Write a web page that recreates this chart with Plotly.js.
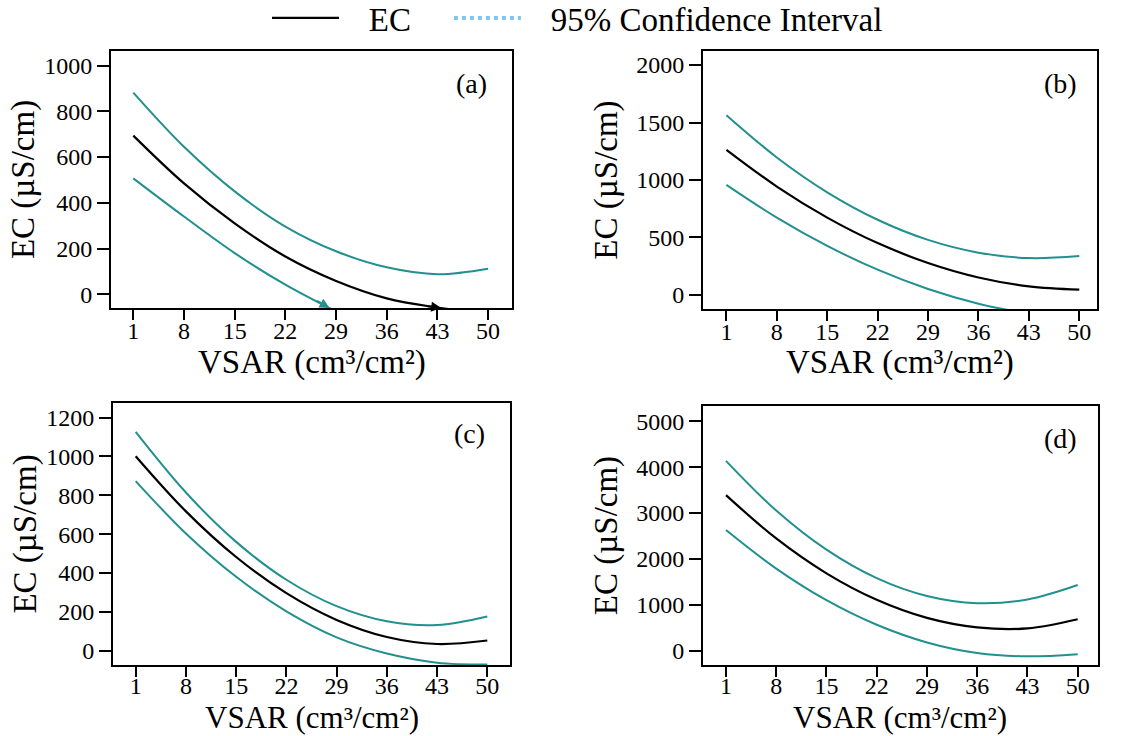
<!DOCTYPE html>
<html>
<head>
<meta charset="utf-8">
<script src="https://cdn.plot.ly/plotly-3.0.1.min.js"></script>
<style>html,body{margin:0;padding:0;background:#fff;}#chart{width:1139px;height:736px;}</style>
</head>
<body>
<div id="chart"></div>
<script>
// VSAR values (cm3/cm2)
const vsar = [1, 8, 15, 22, 29, 36, 43, 50];
const xTickVals = [1, 8, 15, 22, 29, 36, 43, 50];

// Panel (a)
const a_ec = [694, 485, 310, 165, 58, -18, -58, -85];
const a_up = [882, 645, 450, 296, 188, 118, 88, 112];
const a_lo = [507, 340, 180, 42, -75, null, null, null];
// Panel (b)
const b_ec = [1262, 943, 673, 451, 278, 152, 75, 46];
const b_up = [1563, 1196, 893, 654, 479, 368, 321, 338];
const b_lo = [958, 673, 427, 220, 52, -76, -165, null];
// Panel (c)
const c_ec = [1001, 717, 482, 296, 158, 70, 34, 52];
const c_up = [1126, 814, 560, 365, 229, 151, 132, 176];
const c_lo = [873, 603, 380, 202, 68, -15, -62, -72];
// Panel (d)
const d_ec = [3391, 2446, 1686, 1109, 715, 508, 485, 685];
const d_up = [4138, 3054, 2201, 1580, 1191, 1034, 1115, 1430];
const d_lo = [2630, 1789, 1101, 565, 180, -50, -123, -75];

const panelLabels = ['(a)', '(b)', '(c)', '(d)'];
const legendNames = ['EC', '95% Confidence Interval'];
const xTitle = 'VSAR (cm³/cm²)';
const yTitle = 'EC (µS/cm)';

const FONT = 'Liberation Serif, Times New Roman, serif';
const TEAL = '#21908e';
const LIGHTBLUE = '#7fc6ee';
const NB3 = '\u00a0\u00a0\u00a0';
const NB4 = '\u00a0\u00a0\u00a0\u00a0';

const panels = [
  {ec: a_ec, up: a_up, lo: a_lo, xr: [-2.08, 53.3], yr: [-60, 1064], dtick: 200,
   xd: [111/1139, 512/1139], yd: [1-308/736, 1-51/736], lab: [0.898, 0.872], arrows: true,
   ys: 0, ts: -54, tfs: 33, tls: -10},
  {ec: b_ec, up: b_up, lo: b_lo, xr: [-2.25, 52.46], yr: [-122, 2122], dtick: 500,
   xd: [703/1139, 1097/1139], yd: [1-309/736, 1-51/736], lab: [0.908, 0.875], arrows: false,
   ys: 9, ts: -53, tfs: 33, tls: -10},
  {ec: c_ec, up: c_up, lo: c_lo, xr: [-2.16, 53.16], yr: [-74, 1275], dtick: 200,
   xd: [113/1139, 510/1139], yd: [1-665/736, 1-403/736], lab: [0.899, 0.885], arrows: false,
   ys: 0, ts: -52, tfs: 31, tls: -12},
  {ec: d_ec, up: d_up, lo: d_lo, xr: [-2.2, 52.83], yr: [-312, 5333], dtick: 1000,
   xd: [703/1139, 1098/1139], yd: [1-665/736, 1-406/736], lab: [0.906, 0.876], arrows: false,
   ys: 9, ts: -52, tfs: 31, tls: -12}
];

const traces = [];
const layout = {
  width: 1139, height: 736,
  margin: {l: 0, r: 0, t: 0, b: 0, autoexpand: false},
  paper_bgcolor: '#fff', plot_bgcolor: '#fff',
  font: {family: FONT, color: '#000', size: 22},
  showlegend: true,
  legend: {orientation: 'h', x: 0.2344, y: 1.0136, xanchor: 'left', yanchor: 'top',
           font: {family: FONT, size: 33, color: '#000'}, itemwidth: 67,
           bgcolor: 'rgba(0,0,0,0)', tracegroupgap: 0},
  annotations: [],
  shapes: []
};

function crossing(xs, ys, ymin) {
  for (let i = 1; i < ys.length; i++) {
    if (ys[i] !== null && ys[i-1] !== null && ys[i] < ymin && ys[i-1] >= ymin) {
      const t = (ys[i-1] - ymin) / (ys[i-1] - ys[i]);
      return xs[i-1] + t * (xs[i] - xs[i-1]);
    }
  }
  return null;
}

panels.forEach((p, i) => {
  const n = i + 1;
  const xa = n === 1 ? 'x' : 'x' + n;
  const ya = n === 1 ? 'y' : 'y' + n;
  const xk = n === 1 ? 'xaxis' : 'xaxis' + n;
  const yk = n === 1 ? 'yaxis' : 'yaxis' + n;
  traces.push({x: vsar, y: p.up, xaxis: xa, yaxis: ya, type: 'scatter', mode: 'lines',
    line: {color: TEAL, width: 2, shape: 'spline'}, showlegend: false, hoverinfo: 'skip'});
  traces.push({x: vsar, y: p.lo, xaxis: xa, yaxis: ya, type: 'scatter', mode: 'lines',
    line: {color: TEAL, width: 2, shape: 'spline'}, showlegend: false, hoverinfo: 'skip'});
  traces.push({x: vsar, y: p.ec, xaxis: xa, yaxis: ya, type: 'scatter', mode: 'lines',
    name: NB3 + legendNames[0] + NB4, line: {color: '#000', width: 2.2, shape: 'spline'},
    showlegend: i === 0});

  layout[xk] = {domain: p.xd, anchor: ya, range: p.xr, tickmode: 'array', tickvals: xTickVals,
    ticktext: xTickVals.map(String), showgrid: false, zeroline: false,
    showline: true, mirror: true, linecolor: '#000', linewidth: 2,
    ticks: 'outside', ticklen: 10, tickwidth: 2, tickcolor: '#000',
    ticklabelstandoff: p.tls,
    tickfont: {family: FONT, size: 24, color: '#000'},
    fixedrange: true};
  layout[yk] = {domain: p.yd, anchor: xa, range: p.yr, dtick: p.dtick, tick0: 0,
    showgrid: false, zeroline: false,
    showline: true, mirror: true, linecolor: '#000', linewidth: 2,
    ticks: 'outside', ticklen: 12, tickwidth: 2, tickcolor: '#000',
    tickfont: {family: FONT, size: 24, color: '#000'},
    title: {text: yTitle, font: {family: FONT, size: 33, color: '#000'}, standoff: p.ys},
    fixedrange: true};

  // x-axis title
  layout.annotations.push({text: xTitle, xref: xa + ' domain', yref: ya + ' domain',
    x: 0.5, y: 0, xanchor: 'center', yanchor: 'middle', yshift: p.ts, showarrow: false,
    borderpad: 0, font: {family: FONT, size: p.tfs, color: '#000'}});

  layout.annotations.push({text: panelLabels[i], xref: xa + ' domain', yref: ya + ' domain',
    x: p.lab[0], y: p.lab[1], xanchor: 'center', yanchor: 'middle', showarrow: false,
    font: {family: FONT, size: 28, color: '#000'}});

  if (p.arrows) {
    const ymin = p.yr[0];
    const xl = crossing(vsar, p.lo, ymin);
    if (xl !== null) layout.annotations.push({x: xl, y: ymin, xref: xa, yref: ya, text: '',
      showarrow: true, arrowhead: 2, arrowsize: 1, arrowwidth: 2, arrowcolor: TEAL,
      ax: -14, ay: -8, standoff: 0});
    const xe = crossing(vsar, p.ec, ymin);
    if (xe !== null) layout.annotations.push({x: xe, y: ymin, xref: xa, yref: ya, text: '',
      showarrow: true, arrowhead: 2, arrowsize: 1, arrowwidth: 2, arrowcolor: '#000',
      ax: -15, ay: -2, standoff: 0});
  }
});

// legend entry for the confidence interval
traces.push({x: [null], y: [null], type: 'scatter', mode: 'lines', name: NB3 + legendNames[1],
  line: {color: LIGHTBLUE, width: 4, dash: 'dot'}, showlegend: true, hoverinfo: 'skip'});

Plotly.newPlot('chart', traces, layout, {displayModeBar: false, staticPlot: true});
</script>
</body>
</html>
